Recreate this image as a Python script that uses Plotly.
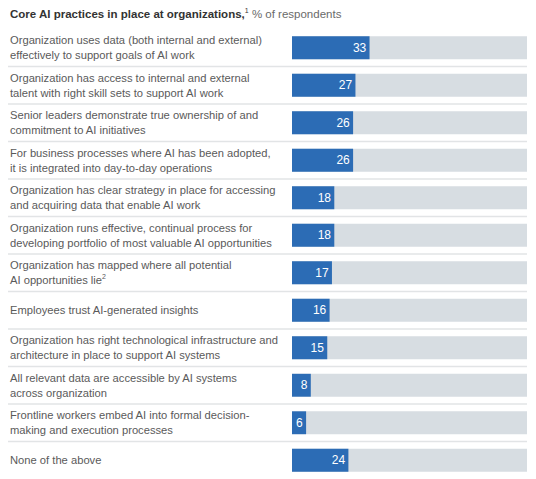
import plotly.graph_objects as go

labels = [
    "Organization uses data (both internal and external)<br>effectively to support goals of AI work",
    "Organization has access to internal and external<br>talent with right skill sets to support AI work",
    "Senior leaders demonstrate true ownership of and<br>commitment to AI initiatives",
    "For business processes where AI has been adopted,<br>it is integrated into day-to-day operations",
    "Organization has clear strategy in place for accessing<br>and acquiring data that enable AI work",
    "Organization runs effective, continual process for<br>developing portfolio of most valuable AI opportunities",
    "Organization has mapped where all potential<br>AI opportunities lie<sup><span style='font-size:7px'>2</span></sup>",
    "Employees trust AI-generated insights",
    "Organization has right technological infrastructure and<br>architecture in place to support AI systems",
    "All relevant data are accessible by AI systems<br>across organization",
    "Frontline workers embed AI into formal decision-<br>making and execution processes",
    "None of the above",
]
values = [33, 27, 26, 26, 18, 18, 17, 16, 15, 8, 6, 24]
full_scale = [100] * len(values)

# page has an 8px body margin; figure is placed at (8, 8)
W, H = 528, 471
L, R, T, B = 284, 9, 21, 0
pw = W - L - R
ph = H - T - B
FONT = "Liberation Sans, Arial, Helvetica, sans-serif"

pos = list(range(len(values)))

fig = go.Figure()
fig.add_trace(go.Bar(
    x=full_scale, y=pos, orientation="h", width=0.61,
    marker=dict(color="#D7DDE2", line=dict(width=0)),
    hoverinfo="skip", showlegend=False,
))
fig.add_trace(go.Bar(
    x=values, y=pos, orientation="h", width=0.61,
    marker=dict(color="#2C6CB5", line=dict(width=0)),
    text=[str(v) for v in values], textposition="inside",
    insidetextanchor="end", constraintext="none",
    textfont=dict(color="white", size=12, family=FONT),
    showlegend=False,
))

x0 = (0 - L) / pw
annotations = []
for i, lab in enumerate(labels):
    annotations.append(dict(
        x=x0, xref="paper", y=i, yref="y", text=lab, showarrow=False,
        xanchor="left", yanchor="middle", align="left",
        font=dict(size=11.2, color="#5a5a5a", family=FONT),
    ))
annotations.append(dict(
    x=x0, xref="paper", y=1 + (T - 6) / ph, yref="paper",
    text="<b>Core AI practices in place at organizations,</b><sup><span style='font-size:7px'>1</span></sup> <span style='color:#6a6a6a'>% of respondents</span>",
    showarrow=False, xanchor="left", yanchor="middle", align="left",
    font=dict(size=11.5, color="#333333", family=FONT),
))

shapes = []
for i in range(len(values) - 1):
    shapes.append(dict(
        type="line", xref="paper", yref="y",
        x0=x0, x1=1, y0=i + 0.5, y1=i + 0.5,
        line=dict(color="#E2E4E6", width=1.5),
    ))

fig.update_layout(
    width=W, height=H,
    margin=dict(l=L, r=R, t=T, b=B),
    barmode="overlay",
    paper_bgcolor="white", plot_bgcolor="white",
    xaxis=dict(range=[0, 100], visible=False, fixedrange=True),
    yaxis=dict(range=[len(values) - 0.5, -0.5], visible=False, fixedrange=True),
    annotations=annotations, shapes=shapes,
    font=dict(family=FONT),
    uniformtext=dict(minsize=8, mode="show"),
)

fig.write_html("out.html")
